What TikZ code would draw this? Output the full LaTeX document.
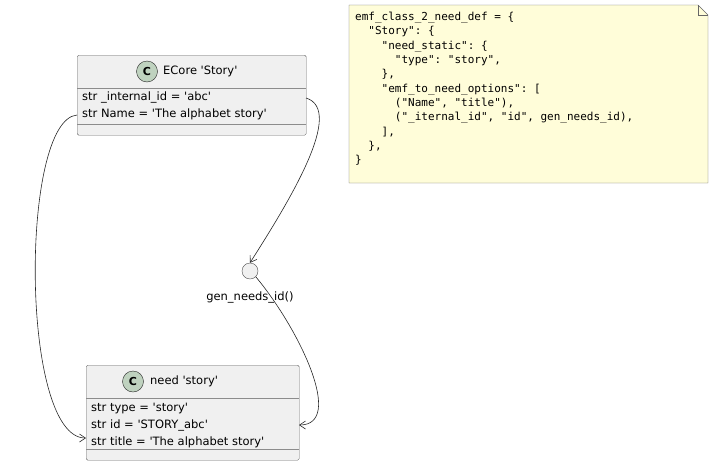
\documentclass[tikz,border=0pt]{standalone}
\usepackage{fontspec}
\setmainfont{DejaVu Sans}
\setmonofont{DejaVu Sans Mono}
\usetikzlibrary{arrows.meta}
\newcommand{\q}{\textquotesingle}
\tikzset{
  box/.style={draw=black!60, fill=black!6, rounded corners=1.5pt, minimum width=#1, inner sep=0pt, anchor=north west},
  attr/.style={anchor=west, font=\fontsize{11.5}{13}\selectfont, inner sep=0pt, align=left},
  badge/.style={circle, draw=black!85, fill=green!30!black!25!white, minimum size=21pt, inner sep=0pt, font=\bfseries\fontsize{11}{11}\selectfont},
  link/.style={draw=black!85, semithick, -{Straight Barb[length=6pt,width=8pt]}}
}
\begin{document}
\begin{tikzpicture}[x=1pt,y=-1pt]
\useasboundingbox (0,0) rectangle (712,466);
% ECore class
\node[box=229pt, minimum height=80pt] (ecore) at (77,55) {};
\draw[black!45] (77,88) -- (306,88) (77,124) -- (306,124);
\node[badge] (cE) at (147,71.5) {C};
\node[attr] (tE) at (163,71.5) {ECore \q Story\q};
\node[attr] (a1) at (82,97) {str \_internal\_id = \q abc\q};
\node[attr] (a2) at (82,114) {str Name = \q The alphabet story\q};
% need class
\node[box=213pt, minimum height=95pt] (need) at (86,365) {};
\draw[black!45] (86,398) -- (299,398) (86,449) -- (299,449);
\node[badge] (cN) at (133,381.5) {C};
\node[attr] (tN) at (150,381.5) {need \q story\q};
\node[attr] (b1) at (91,408) {str type = \q story\q};
\node[attr] (b2) at (91,425) {str id = \q STORY\_abc\q};
\node[attr] (b3) at (91,442) {str title = \q The alphabet story\q};
% function
\node[circle, draw=black!70, fill=black!6, minimum size=16pt, inner sep=0pt] (fn) at (250,271) {};
\node[attr, anchor=center] (fnl) at (250,297) {gen\_needs\_id()};
% note
\filldraw[draw=black!60, fill=yellow!15] (349,5) -- (698,5) -- (708,15) -- (708,183) -- (349,183) -- cycle;
\draw[black!60] (698,5) -- (698,15) -- (708,15);
\node[anchor=north west, inner sep=0pt, align=left, font=\ttfamily\fontsize{11}{14.3}\selectfont] (note) at (355,12) {%
emf\_class\_2\_need\_def = \{\\
\ \ "Story": \{\\
\ \ \ \ "need\_static": \{\\
\ \ \ \ \ \ "type": "story",\\
\ \ \ \ \},\\
\ \ \ \ "emf\_to\_need\_options": [\\
\ \ \ \ \ \ ("Name", "title"),\\
\ \ \ \ \ \ ("\_iternal\_id", "id", gen\_needs\_id),\\
\ \ \ \ ],\\
\ \ \},\\
\}};
% links
\coordinate (s1) at (77,115);
\coordinate (e1) at (86,438);
\coordinate (s2) at (306,98);
\coordinate (e3) at (299,425);
\draw[link] (s1) .. controls (20,120) and (20,438) .. (e1);
\draw[link] (s2) .. controls (345,110) and (290,200) .. (fn.north);
\draw[link] (fn.south east) .. controls (300,330) and (345,425) .. (e3);
\end{tikzpicture}
\end{document}
